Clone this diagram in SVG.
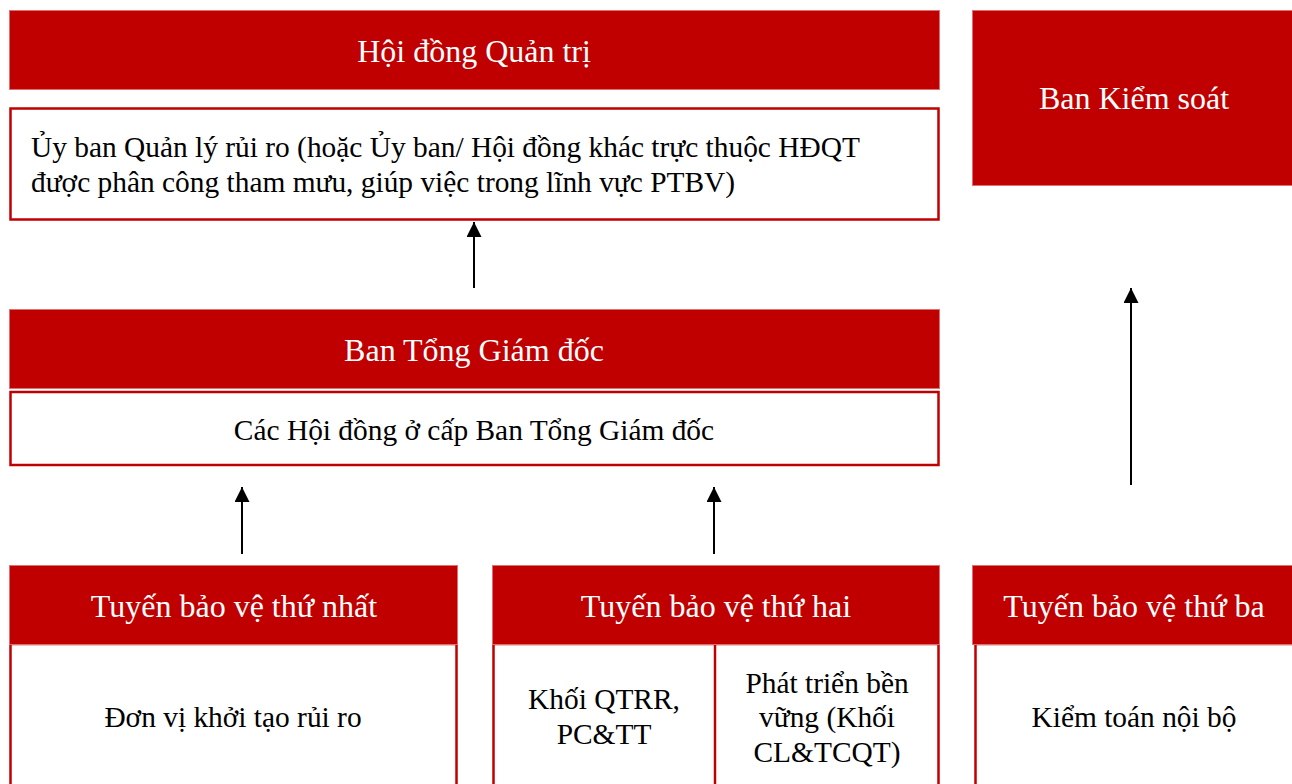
<svg xmlns="http://www.w3.org/2000/svg" width="1292" height="784" viewBox="0 0 1292 784" font-family="Liberation Serif, serif">
<defs>
<style>
.hdr{fill:#C00000;stroke:#E07070;stroke-width:1}
.box{fill:#fff;stroke:#C00000;stroke-width:2.5}
text{font-family:'Liberation Serif',serif;font-size:29.4px}
.wt{fill:#fff;text-anchor:middle;font-size:32px}
.bt{fill:#000;text-anchor:middle}
.bl{fill:#000}
.con{stroke:#000;stroke-width:2;fill:none;marker-end:url(#ah)}
</style>
<marker id="ah" viewBox="0 0 10 10" refX="10" refY="5" markerWidth="15" markerHeight="15" markerUnits="userSpaceOnUse" orient="auto">
<path d="M0,0 L10,5 L0,10 z" fill="#000"/>
</marker>
</defs>
<rect width="1292" height="784" fill="#fff"/>
<g id="hdqt">
<rect class="hdr" x="9.5" y="10.5" width="930" height="79"/>
<text class="wt" x="474" y="62">Hội đồng Quản trị</text>
</g>
<g id="uyban">
<rect class="box" x="10.5" y="108.5" width="928" height="111"/>
<text class="bl" x="31" y="157">Ủy ban Quản lý rủi ro (hoặc Ủy ban/ Hội đồng khác trực thuộc HĐQT</text>
<text class="bl" x="31" y="192">được phân công tham mưu, giúp việc trong lĩnh vực PTBV)</text>
</g>
<g id="bks">
<rect class="hdr" x="972.5" y="10.5" width="325" height="175"/>
<text class="wt" x="1134" y="109">Ban Kiểm soát</text>
</g>
<g id="btgd">
<rect class="hdr" x="9.5" y="309.5" width="930" height="79"/>
<text class="wt" x="474" y="361">Ban Tổng Giám đốc</text>
</g>
<g id="cachd">
<rect class="box" x="10.5" y="392" width="928" height="73"/>
<text class="bt" x="474" y="440">Các Hội đồng ở cấp Ban Tổng Giám đốc</text>
</g>
<g id="tuyen1">
<rect class="box" x="10.5" y="644" width="446" height="150"/>
<rect class="hdr" x="9.5" y="565.5" width="448" height="79"/>
<text class="wt" x="234" y="617">Tuyến bảo vệ thứ nhất</text>
<text class="bt" x="233" y="727">Đơn vị khởi tạo rủi ro</text>
</g>
<g id="tuyen2">
<rect class="box" x="493.5" y="644" width="445" height="150"/>
<line x1="715" y1="644" x2="715" y2="790" stroke="#C00000" stroke-width="2.5"/>
<rect class="hdr" x="492.5" y="565.5" width="447" height="79"/>
<text class="wt" x="716" y="617">Tuyến bảo vệ thứ hai</text>
<text class="bt" x="604" y="709">Khối QTRR,</text>
<text class="bt" x="604" y="744">PC&amp;TT</text>
<text class="bt" x="827" y="693">Phát triển bền</text>
<text class="bt" x="827" y="727">vững (Khối</text>
<text class="bt" x="827" y="762">CL&amp;TCQT)</text>
</g>
<g id="tuyen3">
<rect class="box" x="975.5" y="644" width="330" height="150"/>
<rect class="hdr" x="972.5" y="565.5" width="325" height="79"/>
<text class="wt" x="1134" y="617">Tuyến bảo vệ thứ ba</text>
<text class="bt" x="1134" y="727">Kiểm toán nội bộ</text>
</g>
<g id="connectors">
<line class="con" x1="474" y1="288" x2="474" y2="222"/>
<line class="con" x1="242" y1="554" x2="242" y2="487"/>
<line class="con" x1="714" y1="554" x2="714" y2="487"/>
<line class="con" x1="1131" y1="485" x2="1131" y2="288"/>
</g>
</svg>
